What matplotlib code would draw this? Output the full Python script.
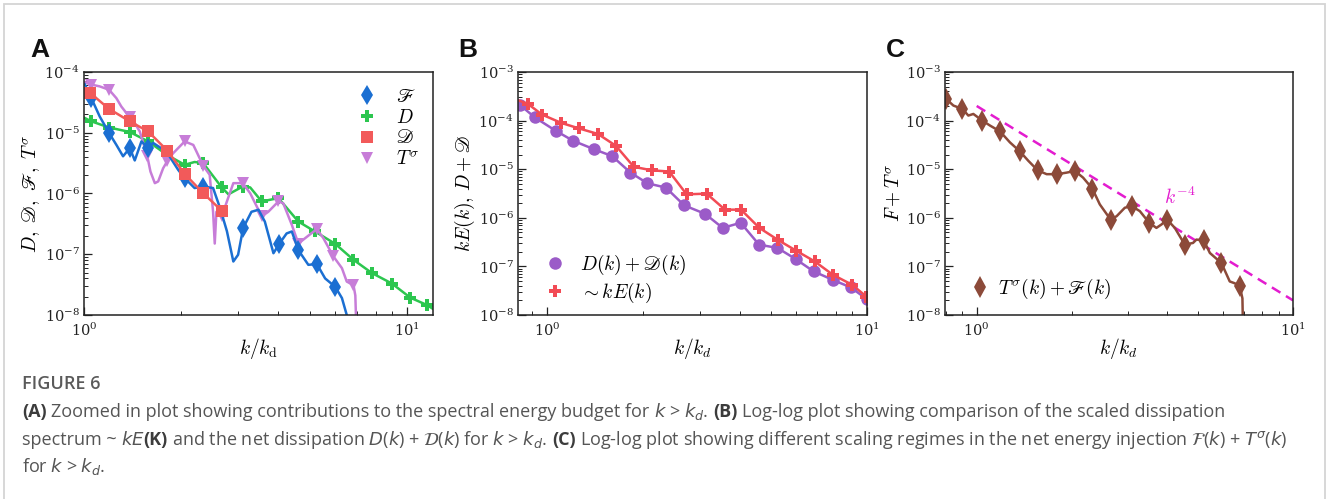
import matplotlib
matplotlib.use('Agg')
import matplotlib.pyplot as plt
import numpy as np
from matplotlib.lines import Line2D
from matplotlib.patches import Rectangle
from matplotlib.ticker import LogLocator, NullFormatter

# ---------------- data ----------------
# Panel A : contributions to spectral energy budget
kF = [1.005, 1.054, 1.118, 1.196, 1.260, 1.321, 1.386, 1.436, 1.506, 1.58, 1.637, 1.80,
      1.957, 2.05, 2.20, 2.34, 2.51, 2.64, 2.77, 2.90, 3.00, 3.11, 3.30, 3.47, 3.63, 3.86,
      4.03, 4.24, 4.40, 4.61, 4.95, 5.26, 5.58, 6.0, 6.29, 6.51, 6.6]
vF = [6.3e-5, 3.7e-5, 1.86e-5, 9.9e-6, 6.3e-6, 4.1e-6, 5.6e-6, 3.5e-6, 7.2e-6, 5.6e-6, 6.8e-6,
      4.9e-6, 2.45e-6, 1.79e-6, 1.23e-6, 1.3e-6, 1.23e-6, 5.7e-7, 2.4e-7, 7.6e-8, 9.8e-8,
      2.7e-7, 5.0e-7, 5.4e-7, 3.45e-7, 1.04e-7, 1.5e-7, 2.2e-7, 2.37e-7, 1.17e-7, 6.7e-8,
      6.9e-8, 4.0e-8, 2.9e-8, 1.9e-8, 1.0e-8, 5e-9]
mF = [1, 3, 6, 9, 13, 15, 21, 26, 29, 31, 33]

kD = [1.005, 1.054, 1.196, 1.386, 1.58, 1.81, 2.05, 2.20, 2.34, 2.67, 2.80, 3.10, 3.27, 3.55,
      4.0, 4.61, 5.19, 6.0, 6.83, 7.79, 8.98, 10.24, 11.53, 12.04]
vD = [1.75e-5, 1.54e-5, 1.22e-5, 1.03e-5, 7.2e-6, 4.3e-6, 2.97e-6, 3.3e-6, 3.16e-6, 1.26e-6,
      9.7e-7, 1.3e-6, 1.26e-6, 7.4e-7, 8.4e-7, 3.45e-7, 2.37e-7, 1.48e-7, 8.1e-8, 4.9e-8,
      3.3e-8, 1.93e-8, 1.46e-8, 1.26e-8]
mD = [1, 2, 3, 4, 5, 6, 8, 9, 11, 13, 14, 15, 16, 17, 18, 19, 20, 21, 22]

kDs = [1.0, 1.046, 1.193, 1.386, 1.58, 1.81, 2.05, 2.34, 2.67]
vDs = [4.9e-5, 4.5e-5, 2.49e-5, 1.54e-5, 1.05e-5, 5.1e-6, 2.1e-6, 1.01e-6, 5.2e-7]
mDs = [1, 2, 3, 4, 5, 6, 7, 8]

kT = [1.005, 1.054, 1.118, 1.196, 1.26, 1.305, 1.386, 1.436, 1.488, 1.569, 1.606, 1.657,
      1.697, 1.758, 1.81, 1.888, 2.05, 2.18, 2.23, 2.34, 2.45, 2.51, 2.54, 2.57, 2.67, 2.77,
      2.90, 3.10, 3.27, 3.55, 3.72, 4.0, 4.14, 4.40, 4.61, 4.84, 5.26, 5.51, 5.92, 6.29,
      6.51, 6.83, 6.92, 6.96]
vT = [6.8e-5, 6.2e-5, 5.8e-5, 5.1e-5, 3.7e-5, 2.7e-5, 1.79e-5, 1.44e-5, 1.05e-5, 4.2e-6,
      2.3e-6, 1.48e-6, 1.58e-6, 2.6e-6, 3.4e-6, 4.6e-6, 7.2e-6, 6.3e-6, 4.9e-6, 2.86e-6,
      2.03e-6, 5.0e-7, 1.5e-7, 5.0e-7, 4.2e-7, 7.4e-7, 1.48e-6, 1.48e-6, 1.01e-6, 4.2e-7,
      5.0e-7, 7.4e-7, 6.9e-7, 3.05e-7, 1.5e-7, 1.84e-7, 2.6e-7, 1.84e-7, 9.2e-8, 5.9e-8,
      3.55e-8, 3.1e-8, 2.1e-8, 8e-9]
mT = [1, 3, 6, 9, 14, 16, 19, 24, 27, 29, 31, 34, 36, 38, 41]

# Panel B : net dissipation vs scaled spectrum
kB1 = [0.821, 0.915, 1.064, 1.206, 1.40, 1.598, 1.824, 2.06, 2.353, 2.685, 3.117, 3.54,
       4.03, 4.60, 5.25, 5.98, 6.81, 7.81, 8.91, 10.0]
vB1 = [2.14e-4, 1.17e-4, 6.2e-5, 3.86e-5, 2.59e-5, 1.86e-5, 8.5e-6, 5.13e-6, 4.18e-6, 1.80e-6,
       1.21e-6, 6.2e-7, 7.9e-7, 2.8e-7, 2.4e-7, 1.42e-7, 7.9e-8, 5.3e-8, 3.68e-8, 2.1e-8]

kB2 = [0.815, 0.872, 0.965, 1.109, 1.256, 1.444, 1.641, 1.868, 2.122, 2.41, 2.731, 3.155,
       3.6, 4.04, 4.61, 5.29, 6.01, 6.86, 7.83, 8.98, 9.95]
vB2 = [2.6e-4, 2.21e-4, 1.33e-4, 8.95e-5, 6.94e-5, 5.3e-5, 3.04e-5, 1.12e-5, 9.5e-6, 8.95e-6,
       3.04e-6, 3.14e-6, 1.47e-6, 1.47e-6, 6.2e-7, 3.45e-7, 2.1e-7, 1.27e-7, 6.7e-8, 4.2e-8,
       2.4e-8]
mB2 = list(range(1, 21))

# Panel C : net energy injection
kC = [0.794, 0.800, 0.844, 0.901, 0.941, 0.976, 1.042, 1.102, 1.185, 1.274, 1.37, 1.456,
      1.558, 1.664, 1.798, 1.924, 2.044, 2.17, 2.32, 2.45, 2.65, 2.77, 2.94, 3.09, 3.28,
      3.51, 3.70, 3.84, 4.0, 4.23, 4.55, 4.83, 4.95, 5.22, 5.46, 5.94, 6.31, 6.54, 6.79,
      6.92, 6.95]
vC = [3.14e-4, 2.8e-4, 2.04e-4, 1.74e-4, 1.27e-4, 1.37e-4, 1.0e-4, 7.9e-5, 6.0e-5, 3.56e-5,
      2.32e-5, 1.49e-5, 9.5e-6, 7.9e-6, 7.9e-6, 8.5e-6, 9.2e-6, 6.7e-6, 4.0e-6, 1.89e-6,
      9.2e-7, 1.08e-6, 1.61e-6, 1.74e-6, 1.37e-6, 7.9e-7, 6.2e-7, 7.3e-7, 9.2e-7, 6.2e-7,
      2.8e-7, 3.04e-7, 3.56e-7, 3.45e-7, 1.89e-7, 1.17e-7, 4.9e-8, 4.5e-8, 3.86e-8, 2.2e-8,
      5e-9]
mC = [1, 3, 6, 8, 10, 12, 14, 16, 18, 20, 23, 25, 28, 30, 33, 35, 38]

ref_k = [1.0, 10.0]
ref_v = [2e-4, 2e-8]

# ---------------- styling ----------------
plt.rcParams['mathtext.fontset'] = 'cm'
plt.rcParams['font.family'] = ['DejaVu Serif']

c_blue = '#1b6fd2'
c_green = '#2cc64f'
c_red = '#f25a5a'
c_purp = '#c77dd8'
c_purpB = '#9b5bc8'
c_redB = '#f24b55'
c_brown = '#8c4a39'
c_mag = '#e31ccf'

W, H = 1328, 499
fig = plt.figure(figsize=(W / 100, H / 100), dpi=100)


def px_axes(l, t, r, b):
    return fig.add_axes([l / W, 1 - b / H, (r - l) / W, (b - t) / H])


axA = px_axes(84, 72, 433, 315)
axB = px_axes(518, 72, 867, 315)
axC = px_axes(945, 72, 1293, 315)


def style(ax, xlim, ylim):
    ax.set_xscale('log')
    ax.set_yscale('log')
    ax.set_xlim(*xlim)
    ax.set_ylim(*ylim)
    ax.yaxis.set_major_locator(LogLocator(base=10, numticks=12))
    ax.yaxis.set_minor_locator(LogLocator(base=10, subs=np.arange(2, 10), numticks=12))
    ax.yaxis.set_minor_formatter(NullFormatter())
    ax.xaxis.set_minor_formatter(NullFormatter())
    ax.tick_params(which='both', direction='in', top=False, right=False,
                   labelsize=10.5, colors='#222222')
    ax.tick_params(which='major', length=6, width=0.9, pad=3)
    ax.tick_params(axis='x', which='major', pad=4.5)
    ax.tick_params(which='minor', length=3, width=0.7)
    for sp in ax.spines.values():
        sp.set_linewidth(1.1)
        sp.set_color('#222222')


style(axA, (1.0, 12.04), (1e-8, 1e-4))
style(axB, (0.812, 10.0), (1e-8, 1e-3))
style(axC, (0.794, 10.0), (1e-8, 1e-3))

lw = 1.8
# Panel A
axA.plot(kD, vD, color=c_green, lw=lw, marker='P', ms=9, mew=0, markevery=mD)
axA.plot(kT, vT, color=c_purp, lw=lw, marker='v', ms=9, mew=0, markevery=mT)
axA.plot(kF, vF, color=c_blue, lw=lw, marker='d', ms=10, mew=0, markevery=mF)
axA.plot(kDs, vDs, color=c_red, lw=lw, marker='s', ms=8, mew=0, markevery=mDs)

hA = [Line2D([], [], ls='none', marker='d', color=c_blue, ms=10, mew=0),
      Line2D([], [], ls='none', marker='P', color=c_green, ms=9, mew=0),
      Line2D([], [], ls='none', marker='s', color=c_red, ms=8, mew=0),
      Line2D([], [], ls='none', marker='v', color=c_purp, ms=9, mew=0)]
labA = [r'$\mathscr{F}$', r'$D$', r'$\mathscr{D}$', r'$T^{\sigma}$']
fig.legend(hA, labA, loc='upper left', bbox_to_anchor=(357 / W, 1 - 88 / H),
           bbox_transform=fig.transFigure, frameon=False, fontsize=14,
           handlelength=1.0, handletextpad=1.0, labelspacing=0.14,
           borderpad=0, borderaxespad=0)
axA.set_xlabel(r'$k/k_\mathrm{d}$', fontsize=14, labelpad=-2)
axA.set_ylabel(r'$D,\ \mathscr{D},\ \mathscr{F},\ T^{\sigma}$', fontsize=14, labelpad=1)

# Panel B
axB.plot(kB1, vB1, color=c_purpB, lw=lw, marker='o', ms=9, mew=0)
axB.plot(kB2, vB2, color=c_redB, lw=lw, marker='P', ms=9, mew=0, markevery=mB2)
hB = [Line2D([], [], ls='none', marker='o', color=c_purpB, ms=9, mew=0),
      Line2D([], [], ls='none', marker='P', color=c_redB, ms=9, mew=0)]
fig.legend(hB, [r'$D(k)+\mathscr{D}(k)$', r'$\sim kE(k)$'], loc='upper left',
           bbox_to_anchor=(545 / W, 1 - 253 / H), bbox_transform=fig.transFigure,
           frameon=False, fontsize=14, handlelength=1.0, handletextpad=0.8,
           labelspacing=0.2, borderpad=0, borderaxespad=0)
axB.set_xlabel(r'$k/k_d$', fontsize=14, labelpad=-2)
axB.set_ylabel(r'$kE(k),\,D+\mathscr{D}$', fontsize=14, labelpad=1)

# Panel C
axC.plot(ref_k, ref_v, color=c_mag, lw=1.8, ls=(0, (4, 2.6)))
axC.plot(kC, vC, color=c_brown, lw=lw, marker='d', ms=11, mew=0, markevery=mC)
axC.text(4.39, 2.6e-6, r'$k^{-4}$', color=c_mag, fontsize=14, ha='center', va='center')
hC = [Line2D([], [], ls='none', marker='d', color=c_brown, ms=11, mew=0)]
fig.legend(hC, [r'$T^{\sigma}(k)+\mathscr{F}(k)$'], loc='upper left',
           bbox_to_anchor=(970 / W, 1 - 277 / H), bbox_transform=fig.transFigure,
           frameon=False, fontsize=14, handlelength=1.0, handletextpad=0.45,
           borderpad=0, borderaxespad=0)
axC.set_xlabel(r'$k/k_d$', fontsize=14, labelpad=-2)
axC.set_ylabel(r'$F+T^{\sigma}$', fontsize=14, labelpad=1)

# panel letters
for x, s in [(30, 'A'), (458, 'B'), (886, 'C')]:
    fig.text(x / W, 1 - 57 / H, s, fontsize=19, fontweight='bold',
             family='Liberation Sans', color='#111111', va='baseline')

# outer frame
fig.patches.append(Rectangle((4 / W, -0.05), (1325 - 4) / W, 1.05 - 4 / H,
                             transform=fig.transFigure, fill=False,
                             edgecolor='#d4d4d4', linewidth=1.3))

# caption
renderer = fig.canvas.get_renderer()
cap_family = 'Open Sans'
cap_fs = 11.5

line1 = [('(A)', True),
         (' Zoomed in plot showing contributions to the spectral energy budget for ', False),
         (r'$k$ > $k_d$.', False), (' (B)', True),
         (' Log-log plot showing comparison of the scaled dissipation', False)]
line2 = [('spectrum ~ ', False), (r'$kE$', False), ('(K)', True),
         (r' and the net dissipation $D$($k$) + $\mathcal{D}$($k$) for $k$ > $k_d$.', False),
         (' (C)', True),
         (r' Log-log plot showing different scaling regimes in the net energy injection '
          r'$\mathcal{F}$($k$) + $T^{\sigma}$($k$)', False)]
line3 = [(r'for $k$ > $k_d$.', False)]


def txt(x, y, s, bold, color):
    return fig.text(x / W, 1 - y / H, s, fontsize=cap_fs, family=cap_family,
                    fontweight='bold' if bold else 'normal', color=color,
                    va='baseline', ha='left', math_fontfamily='dejavusans')


def width_px(s, bold):
    t = txt(0, 0, s, bold, 'k')
    w = t.get_window_extent(renderer).width
    t.remove()
    return w


def draw_line(y, segs, draw=True):
    sw = width_px('a a', False) - width_px('aa', False)
    x = 22.0
    for s, bold in segs:
        if s.startswith(' '):
            x += sw
            s = s[1:]
        trail = s.endswith(' ')
        s = s.rstrip(' ')
        t = txt(x, y, s, bold, '#3c3c3c' if bold else '#555555')
        x = t.get_window_extent(renderer).x1
        if s.endswith('$'):
            x -= 1.5
        if trail:
            x += sw
        if not draw:
            t.remove()
    return x


# fit caption font size so that the lines span about the same width as the reference
end1 = draw_line(417, line1, draw=False)
end2 = draw_line(445, line2, draw=False)
scale = min((1275 - 22) / (end1 - 22), (1296 - 22) / (end2 - 22))
cap_fs = cap_fs * scale

fig.text(22 / W, 1 - 389 / H, 'FIGURE 6', fontsize=cap_fs, family=cap_family,
         fontweight='semibold', color='#5a5a5a', va='baseline')
draw_line(417, line1)
draw_line(445, line2)
draw_line(472, line3)

fig.savefig('out.png', dpi=100)
